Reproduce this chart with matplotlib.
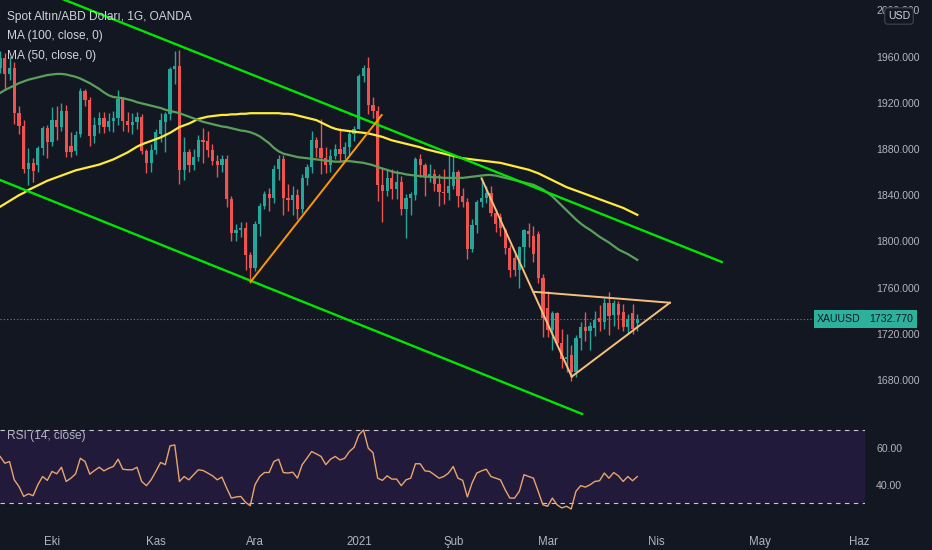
import numpy as np
import pandas as pd
import matplotlib
matplotlib.use("Agg")
import matplotlib.pyplot as plt
import matplotlib.transforms as mtransforms

# ---- data (XAUUSD daily) ----
start_date = "2020-09-16"
end_date = "2021-06-04"
holidays = ["2020-12-25", "2021-01-01"]

opens = [1950, 1959, 1945, 1950, 1911, 1900, 1863, 1868, 1866, 1881,
         1898, 1886, 1905, 1899, 1913, 1883, 1878, 1893, 1930, 1922,
         1891, 1901, 1907, 1899, 1904, 1907, 1923, 1904, 1901, 1903,
         1908, 1878, 1868, 1879, 1893, 1903, 1910, 1949, 1952, 1862,
         1877, 1866, 1873, 1888, 1887, 1879, 1870, 1866, 1871, 1837,
         1807, 1810, 1812, 1788, 1777, 1815, 1831, 1841, 1838, 1863,
         1871, 1838, 1836, 1840, 1828, 1855, 1864, 1888, 1881, 1872,
         1866, 1874, 1880, 1876, 1882, 1893, 1897, 1943, 1950, 1918,
         1913, 1849, 1844, 1855, 1845, 1851, 1828, 1838, 1840, 1871,
         1866, 1856, 1858, 1850, 1843, 1842, 1848, 1860, 1839, 1834,
         1793, 1814, 1834, 1838, 1842, 1825, 1821, 1810, 1794, 1786,
         1775, 1795, 1809, 1805, 1806, 1768, 1742, 1723, 1738, 1712,
         1698, 1702, 1687, 1716, 1726, 1722, 1725, 1734, 1730, 1747,
         1736, 1746, 1739, 1726, 1738, 1729]
highs = [1965, 1963, 1960, 1955, 1917, 1905, 1881, 1872, 1883, 1900,
         1901, 1916, 1917, 1920, 1918, 1895, 1896, 1933, 1932, 1925,
         1908, 1912, 1912, 1911, 1913, 1931, 1925, 1912, 1911, 1912,
         1910, 1880, 1884, 1897, 1911, 1912, 1951, 1965, 1966, 1890,
         1880, 1880, 1892, 1898, 1896, 1884, 1875, 1875, 1875, 1839,
         1815, 1817, 1817, 1791, 1818, 1833, 1844, 1846, 1866, 1875,
         1875, 1850, 1848, 1845, 1858, 1867, 1896, 1890, 1906, 1882,
         1880, 1884, 1898, 1886, 1896, 1900, 1945, 1953, 1960, 1925,
         1917, 1864, 1862, 1863, 1862, 1857, 1841, 1843, 1873, 1876,
         1868, 1867, 1863, 1858, 1863, 1875, 1875, 1862, 1846, 1838,
         1819, 1836, 1855, 1848, 1848, 1828, 1825, 1812, 1797, 1789,
         1796, 1811, 1816, 1813, 1809, 1772, 1757, 1740, 1739, 1724,
         1720, 1710, 1719, 1730, 1739, 1730, 1740, 1745, 1751, 1756,
         1749, 1748, 1746, 1737, 1746, 1737]
lows = [1946, 1931, 1940, 1902, 1893, 1859, 1849, 1851, 1860, 1875,
        1872, 1883, 1888, 1896, 1873, 1873, 1875, 1890, 1917, 1883,
        1885, 1894, 1894, 1896, 1895, 1901, 1896, 1895, 1893, 1897,
        1876, 1859, 1860, 1876, 1886, 1877, 1905, 1936, 1850, 1853,
        1860, 1862, 1870, 1868, 1873, 1866, 1856, 1860, 1830, 1800,
        1800, 1804, 1775, 1764, 1774, 1805, 1828, 1826, 1833, 1853,
        1823, 1826, 1823, 1819, 1825, 1849, 1859, 1873, 1858, 1859,
        1860, 1871, 1869, 1871, 1875, 1887, 1897, 1938, 1910, 1907,
        1835, 1817, 1839, 1837, 1837, 1823, 1803, 1823, 1836, 1856,
        1839, 1851, 1844, 1831, 1832, 1836, 1845, 1830, 1830, 1785,
        1791, 1807, 1830, 1833, 1822, 1808, 1805, 1789, 1769, 1770,
        1760, 1778, 1795, 1782, 1764, 1717, 1717, 1706, 1710, 1690,
        1687, 1679, 1683, 1706, 1714, 1706, 1718, 1722, 1724, 1719,
        1727, 1724, 1722, 1720, 1720, 1722]
closes = [1959, 1945, 1950, 1911, 1900, 1863, 1868, 1861, 1881, 1898,
          1886, 1905, 1899, 1913, 1877, 1877, 1892, 1930, 1922, 1891,
          1901, 1907, 1899, 1904, 1907, 1923, 1904, 1901, 1903, 1908,
          1878, 1868, 1879, 1895, 1905, 1910, 1949, 1952, 1862, 1877,
          1866, 1873, 1888, 1886, 1879, 1870, 1866, 1871, 1837, 1807,
          1810, 1812, 1788, 1777, 1815, 1831, 1841, 1838, 1863, 1871,
          1838, 1836, 1840, 1828, 1855, 1864, 1888, 1881, 1872, 1866,
          1874, 1880, 1876, 1882, 1893, 1897, 1943, 1950, 1918, 1913,
          1849, 1844, 1855, 1845, 1851, 1828, 1838, 1841, 1871, 1866,
          1856, 1858, 1850, 1843, 1842, 1848, 1860, 1839, 1834, 1793,
          1814, 1834, 1838, 1842, 1825, 1815, 1812, 1794, 1775, 1775,
          1795, 1810, 1806, 1789, 1768, 1734, 1723, 1738, 1712, 1698,
          1700, 1687, 1716, 1726, 1722, 1727, 1732, 1730, 1747, 1735,
          1747, 1736, 1726, 1733, 1724, 1732.77]

ma100 = [1830, 1832.5, 1835, 1837.5, 1840, 1842, 1844.5, 1846.5, 1848.5, 1850.5,
         1852.5, 1854, 1855.5, 1857, 1858.5, 1860, 1861.5, 1862.5, 1863.5, 1864.5,
         1865.5, 1866.5, 1868, 1869.5, 1871, 1873, 1875, 1877, 1879.5, 1882,
         1884, 1885.5, 1887, 1888.5, 1890, 1892, 1894, 1896.5, 1899, 1900.5,
         1902, 1904, 1906, 1907, 1908, 1908.5, 1909, 1909.5, 1909.5, 1910,
         1910, 1910.5, 1910.5, 1911, 1911, 1911, 1911, 1911, 1911, 1911,
         1910.5, 1910.5, 1910, 1909, 1908, 1907, 1906, 1905, 1903, 1901,
         1899, 1897.5, 1896.5, 1896, 1895.5, 1895, 1894.5, 1894, 1893.5, 1892.5,
         1891.5, 1890.5, 1889, 1887.5, 1886.5, 1885.5, 1884.5, 1883.5, 1882.5, 1881.5,
         1880, 1879, 1878, 1877, 1876, 1875, 1874, 1873, 1872, 1871.5,
         1871, 1870.5, 1870, 1869.5, 1869, 1868.5, 1868, 1867, 1866, 1865,
         1864, 1863, 1862, 1860.5, 1859, 1857, 1855, 1853, 1851, 1849,
         1847, 1845.5, 1844, 1842.5, 1841, 1839.5, 1838, 1836.5, 1835, 1833.5,
         1832, 1830.5, 1829, 1827, 1825, 1823]
ma50 = [1928.5, 1931, 1933, 1935, 1937, 1938.5, 1940, 1941, 1942, 1943,
        1944, 1944.5, 1945, 1945, 1944.5, 1943.5, 1942.5, 1941, 1939, 1937,
        1934.5, 1932, 1929, 1926.5, 1925, 1924.5, 1924, 1923, 1922, 1920.5,
        1919.5, 1918.5, 1917.5, 1916.5, 1915.5, 1914, 1913, 1912, 1911, 1909.5,
        1908, 1906.5, 1905, 1903.5, 1902.5, 1901.5, 1900.5, 1899.5, 1899, 1898,
        1897, 1896, 1895.5, 1894.5, 1893, 1891, 1888, 1885, 1881, 1878,
        1876, 1875, 1874, 1873, 1872.5, 1872, 1871.5, 1871, 1870.5, 1870,
        1869.5, 1869, 1869, 1869.5, 1869.5, 1869, 1868.5, 1868, 1867, 1866,
        1864.5, 1863, 1862, 1860.5, 1859.5, 1859, 1858, 1857.5, 1857, 1856.5,
        1856, 1856, 1855.5, 1855.5, 1855, 1855, 1855, 1855, 1855, 1855.5,
        1856, 1856.5, 1857, 1857.5, 1857.5, 1857, 1856, 1855, 1854, 1853,
        1852, 1851, 1850, 1849, 1847, 1845, 1842, 1839, 1835, 1831,
        1827, 1823, 1819, 1815.5, 1812.5, 1810, 1807, 1804, 1801.5, 1799,
        1796, 1793, 1791, 1789, 1786.5, 1784]
rsi = [55.5, 51.8, 52.7, 42.7, 39, 33.6, 35, 34, 40, 44.5,
       42.4, 47.3, 46, 49.6, 41.8, 43.6, 46, 54.5, 52.7, 45.8,
       47.8, 49.6, 47.6, 49, 50, 54, 48.5, 48.2, 48.2, 49.6,
       41.8, 39.5, 42.7, 47.3, 52.2, 51, 61.3, 61.8, 41.8, 44.5,
       42.7, 45.5, 48.2, 47.8, 46.4, 44.9, 42.7, 44.2, 38.2, 32.7,
       33.3, 33.6, 30.4, 28.5, 40, 44.5, 46.7, 46.7, 52.7, 54,
       46.7, 46.4, 46.9, 43.6, 51, 54.5, 58.2, 56.9, 55.5, 51,
       54, 55.5, 53.6, 54.5, 58.2, 60.5, 67.3, 70, 60, 57.6,
       43.6, 42.4, 44.9, 43.1, 43.1, 39.5, 42.7, 43.6, 51.5, 51.5,
       47.6, 47.3, 45.5, 43.6, 44.5, 46.4, 50, 43.6, 42.4, 33.3,
       41, 46.4, 47.6, 48.5, 44.5, 43.6, 42.7, 37.3, 32.7, 32.7,
       36.4, 45.5, 44.5, 43.6, 36.4, 29, 28.2, 32.7, 29, 27.3,
       28.2, 26.7, 36.4, 39.5, 38.7, 40, 41.8, 42.2, 46.4, 43.6,
       46.7, 44.9, 41.8, 44.5, 42.2, 44.5]

month_starts = ["2020-10-01", "2020-11-02", "2020-12-01", "2021-01-04", "2021-02-01",
                "2021-03-01", "2021-04-01", "2021-05-03", "2021-06-01"]
month_labels = ["Eki", "Kas", "Ara", "2021", "Şub", "Mar", "Nis", "May", "Haz"]

price_ticks = [1680, 1720, 1760, 1800, 1840, 1880, 1920, 1960, 2000]
rsi_ticks = [40, 60]

# drawings (bar index, price)
channel_top = ([10.0, 152.9], [2015.1, 1782.2])
channel_bottom = ([-1.0, 123.3], [1854.8, 1650.6])
rally_line = ([53.1, 80.85], [1765.1, 1909.4])
tri_drop = ([102.0, 121.1], [1854.6, 1682.9])
tri_rise = ([121.1, 141.9], [1682.9, 1746.9])
tri_top = ([113.0, 141.9], [1756.4, 1746.9])

# ---- style ----
BG = "#131722"
UP = "#26a69a"
DOWN = "#ef5350"
TXT = "#b2b5be"
plt.rcParams["font.family"] = ["Liberation Sans", "DejaVu Sans"]

dates = pd.bdate_range(start_date, end_date).drop(pd.to_datetime(holidays))
month_pos = dates.get_indexer(pd.to_datetime(month_starts))

W, H = 932, 550
fig = plt.figure(figsize=(W / 100, H / 100), dpi=100, facecolor=BG)


def px_axes(x0, y0, x1, y1):
    a = fig.add_axes([x0 / W, 1 - y1 / H, (x1 - x0) / W, (y1 - y0) / H])
    a.set_facecolor(BG)
    for s in a.spines.values():
        s.set_visible(False)
    return a


ax = px_axes(0, 0, 865, 415)
rx = px_axes(0, 420, 865, 515)

xlim = (-0.02, 183.24)
ax.set_xlim(*xlim)
ax.set_ylim(1649.7, 2009.0)

idx = np.arange(len(closes))
o = np.array(opens, float)
h = np.array(highs, float)
l = np.array(lows, float)
c = np.array(closes, float)
cols = np.where(c >= o, UP, DOWN)

ax.vlines(idx, l, h, colors=cols, lw=1, zorder=2)
ax.bar(idx, np.maximum(np.abs(c - o), 0.8), bottom=np.minimum(o, c),
       width=0.68, color=cols, linewidth=0, zorder=2)

ax.plot(idx, ma100, color="#ffeb3b", lw=1.6, zorder=3)
ax.plot(idx, ma50, color="#5b9f5d", lw=1.6, zorder=3)

for line in (channel_top, channel_bottom):
    ax.plot(line[0], line[1], color="#00e600", lw=1.7, zorder=4)
ax.plot(rally_line[0], rally_line[1], color="#ff9800", lw=1.4, zorder=4)
for line in (tri_drop, tri_rise, tri_top):
    ax.plot(line[0], line[1], color="#f6c07c", lw=1.4, zorder=4)

last = c[-1]
ax.axhline(last, color=UP, ls=(0, (1, 2)), lw=0.8, zorder=1)

ax.yaxis.tick_right()
ax.set_yticks(price_ticks)
ax.set_yticklabels([f"{p:.3f}" for p in price_ticks])
ax.tick_params(axis="y", length=0, pad=8, labelcolor=TXT, labelsize=7.6)
ax.set_xticks([])

trans = mtransforms.blended_transform_factory(ax.transAxes, ax.transData)
ax.text(1 - 4 / 865, last, "XAUUSD", transform=trans, ha="right", va="center",
        fontsize=7.6, color=BG, zorder=6,
        bbox=dict(boxstyle="square,pad=0.35", fc="#2bb19c", ec="none"))
ax.text(1 + 4 / 865, last, "1732.770", transform=trans, ha="left", va="center",
        fontsize=7.6, color=BG, zorder=6, clip_on=False,
        bbox=dict(boxstyle="square,pad=0.35", fc="#2bb19c", ec="none"))

fig.text(899 / W, 1 - 16 / H, "USD", ha="center", va="center", fontsize=7.6,
         color="#d1d4dc", zorder=10,
         bbox=dict(boxstyle="round,pad=0.3", fc=BG, ec="#434651", lw=0.8))

legend_rows = ["Spot Altın/ABD Doları, 1G, OANDA", "MA (100, close, 0)", "MA (50, close, 0)"]
for i, t in enumerate(legend_rows):
    fig.text(7 / W, 1 - (17 + 19.5 * i) / H, t, ha="left", va="center",
             fontsize=8.6, color="#d1d4dc")

# ---- RSI pane ----
rx.set_xlim(*xlim)
rx.set_ylim(23.42, 75.48)
rx.axhspan(30, 70, facecolor="#211a3a", edgecolor="none", zorder=0)
for lvl in (30, 70):
    rx.axhline(lvl, color="#c9c9d3", ls=(0, (4, 4)), lw=0.8, zorder=1)
rx.plot(idx, rsi, color="#e9a56d", lw=1.0, zorder=2)
rx.text(7 / 865, 66.8, "RSI (14, close)", transform=mtransforms.blended_transform_factory(
    rx.transAxes, rx.transData), ha="left", va="center", fontsize=8.6, color="#b2b5be")

rx.yaxis.tick_right()
rx.set_yticks(rsi_ticks)
rx.set_yticklabels([f"{v:.2f}" for v in rsi_ticks])
rx.tick_params(axis="y", length=0, pad=8, labelcolor=TXT, labelsize=7.6)
rx.set_xticks(month_pos)
rx.set_xticklabels(month_labels)
rx.tick_params(axis="x", length=0, pad=15, labelcolor=TXT, labelsize=8.3)

fig.savefig("out.png", dpi=100, facecolor=BG)
